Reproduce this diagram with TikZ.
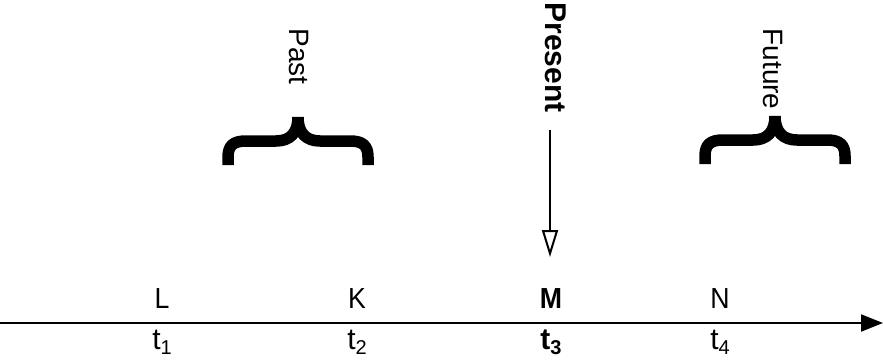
\documentclass[tikz,border=0pt]{standalone}
\usepackage{fontspec}
\setmainfont{Liberation Sans}
\usetikzlibrary{arrows.meta}
\newcommand\tsubx[1]{t\raisebox{-0.18em}{\fontsize{20}{20}\selectfont #1}}
\begin{document}
\begin{tikzpicture}[x=1pt,y=-1pt,
 lbl/.style={inner sep=0pt, anchor=base, xscale=0.92, font=\fontsize{29}{31}\selectfont},
 tlbl/.style={inner sep=0pt, anchor=base, font=\fontsize{30}{32}\selectfont},
 vtxt/.style={inner sep=0pt, rotate=-90, font=\fontsize{28}{30}\selectfont},
 bracepath/.style={line width=11.5pt, line cap=butt, line join=round},
 curlybr/.pic={
  \draw[bracepath] (-70,48) -- (-70,40) .. controls (-70,28) and (-64,24) .. (-52,24) -- (-22,24) .. controls (-8,24) and (0,16) .. (0,0);
  \draw[bracepath] (70,48) -- (70,40) .. controls (70,28) and (64,24) .. (52,24) -- (22,24) .. controls (8,24) and (0,16) .. (0,0);
 }]
\useasboundingbox (0,0) rectangle (883,360);
% axis
\coordinate (axs) at (0,323);
\coordinate (axe) at (883,323);
\draw[line width=2pt, -{Triangle[length=22pt,width=17pt]}] (axs) -- (axe);
% top labels
\node[lbl] (L) at (162,308) {L};
\node[lbl] (K) at (357,308) {K};
\node[lbl, font=\fontsize{29}{31}\selectfont\bfseries] (M) at (551,308) {M};
\node[lbl] (N) at (720,308) {N};
% bottom labels
\node[tlbl] (t1) at (162,349) {\tsubx{1}};
\node[tlbl] (t2) at (357,349) {\tsubx{2}};
\node[tlbl, font=\fontsize{30}{32}\selectfont\bfseries] (t3) at (551,349) {\tsubx{3}};
\node[tlbl] (t4) at (720,349) {\tsubx{4}};
% vertical texts
\node[vtxt] (past) at (299,56.5) {Past};
\node[vtxt, font=\fontsize{30}{32}\selectfont\bfseries] (present) at (556,57.5) {Present};
\node[vtxt] (future) at (773,69) {Future};
% braces
\pic (pastbr) at (298,117) {curlybr};
\pic (futbr) at (775,116) {curlybr};
% present arrow
\coordinate (ps) at (550,130);
\coordinate (pe) at (550,257);
\draw[line width=2pt, -{Triangle[open,length=27pt,width=16pt,fill=white]}] (ps) -- (pe);
\end{tikzpicture}
\end{document}
